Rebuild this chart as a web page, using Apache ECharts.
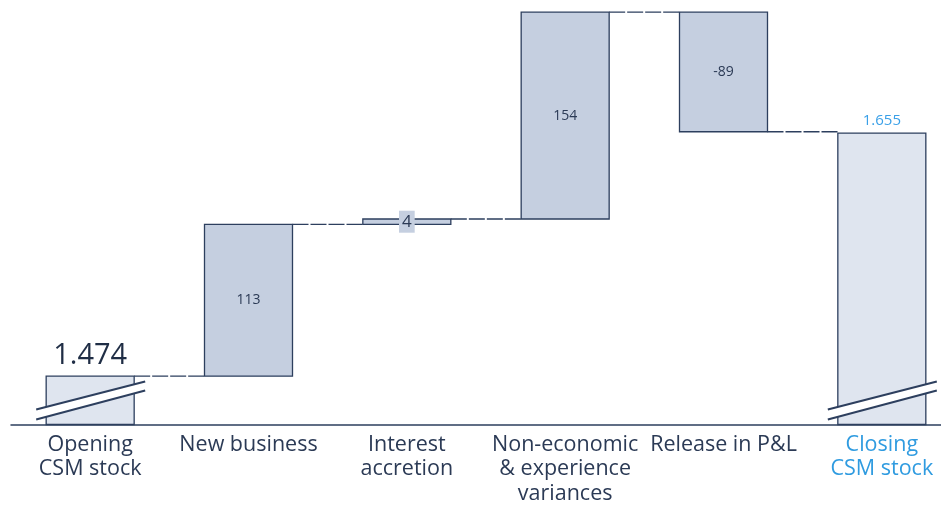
<!DOCTYPE html>
<html><head><meta charset="utf-8">
<script src="https://cdn.jsdelivr.net/npm/echarts@6/dist/echarts.min.js"></script>
<style>html,body{margin:0;padding:0;background:#fff;overflow:hidden;width:941px;height:506px}#c{width:961px;height:506px}</style>
</head><body><div id="c"></div>
<script>
var categories = ['Opening\nCSM stock', 'New business', 'Interest\naccretion', 'Non-economic\n& experience\nvariances', 'Release in P&L', 'Closing\nCSM stock'];
var openingValue = 1474;
var changes = [113, 4, 154, -89];
var closingValue = 1655;
var axisMin = 1438;
var axisMax = 1752.6;

function fmt(v){ var s = String(Math.abs(v)); if (s.length > 3) s = s.slice(0, s.length-3) + '.' + s.slice(s.length-3); return (v<0?'-':'') + s; }

// Build waterfall items [index, low, high, kind, label, connectLevel]
var items = [];
var level = openingValue;
items.push([0, axisMin, openingValue, 0, openingValue, openingValue]);
for (var i = 0; i < changes.length; i++) {
  var s = level, e = level + changes[i];
  items.push([i+1, Math.min(s,e), Math.max(s,e), 1, changes[i], e]);
  level = e;
}
items.push([categories.length-1, axisMin, closingValue, 2, closingValue, closingValue]);

var NAVY = '#2d3f5e';
var TXT = '#2b3a55';
var BLUE = '#2f9be0';
var FONT = 'Open Sans';

var chart = echarts.init(document.getElementById('c'), null, {renderer:'canvas'});
chart.setOption({
  animation: false,
  grid: {left: 11, right: 0, top: 2, bottom: 79},
  xAxis: {
    type: 'category', data: categories,
    axisLine: {lineStyle: {color: NAVY, width: 1.5}},
    axisTick: {show: false},
    axisLabel: {
      interval: 0, margin: 8, fontSize: 21.5, lineHeight: 24.5, fontFamily: FONT,
      color: function(v, idx){ return idx === categories.length-1 ? BLUE : TXT; }
    }
  },
  yAxis: {type: 'value', min: axisMin, max: axisMax, show: false, splitLine:{show:false}},
  series: [{
    type: 'custom',
    data: items,
    clip: false,
    renderItem: function(params, api){
      var idx = api.value(0), lo = api.value(1), hi = api.value(2), kind = api.value(3), lab = api.value(4), conn = api.value(5);
      var pLo = api.coord([idx, lo]), pHi = api.coord([idx, hi]);
      var w = 88;
      var cx = pLo[0];
      var children = [];
      var fill = kind === 1 ? '#c5cfe0' : '#dfe5ef';
      children.push({type:'rect', shape:{x: cx - w/2, y: pHi[1], width: w, height: pLo[1]-pHi[1]},
        style:{fill: fill, stroke: NAVY, lineWidth: 1.3}});
      // connector to next bar
      if (idx < categories.length - 1) {
        var pc = api.coord([idx, conn]);
        var pn = api.coord([idx+1, conn]);
        children.push({type:'line', shape:{x1: cx + w/2, y1: pc[1], x2: pn[0] - w/2, y2: pc[1]},
          style:{stroke: NAVY, lineWidth: 1.3, lineDash:[16,2]}});
      }
      if (kind === 1) {
        var isSmall = Math.abs(lab) < 10;
        children.push({type:'text', x: cx, y: (pLo[1]+pHi[1])/2,
          style:{text: fmt(lab), fill: TXT, fontSize: isSmall ? 17 : 14, fontFamily: FONT,
            align:'center', verticalAlign:'middle',
            backgroundColor: isSmall ? '#c5cfe0' : null, padding: isSmall ? [3,3,2,3] : 0}});
      } else {
        var big = kind === 0;
        children.push({type:'text', x: cx, y: pHi[1] - (big ? 6 : 5),
          style:{text: fmt(lab), fill: big ? '#1f2d45' : '#3aa0e8', fontSize: big ? 29 : 15, fontFamily: FONT,
            align:'center', verticalAlign:'bottom'}});
        // axis break marks
        var yb = pLo[1];
        children.push({type:'polygon', shape:{points:[[cx-54, yb-15],[cx+55, yb-43],[cx+55, yb-34],[cx-54, yb-5]]},
          style:{fill:'#ffffff'}});
        children.push({type:'line', shape:{x1: cx-54, y1: yb-15, x2: cx+55, y2: yb-43}, style:{stroke: NAVY, lineWidth: 2}});
        children.push({type:'line', shape:{x1: cx-54, y1: yb-5, x2: cx+55, y2: yb-34}, style:{stroke: NAVY, lineWidth: 2}});
      }
      return {type:'group', children: children};
    }
  }]
});
</script></body></html>
